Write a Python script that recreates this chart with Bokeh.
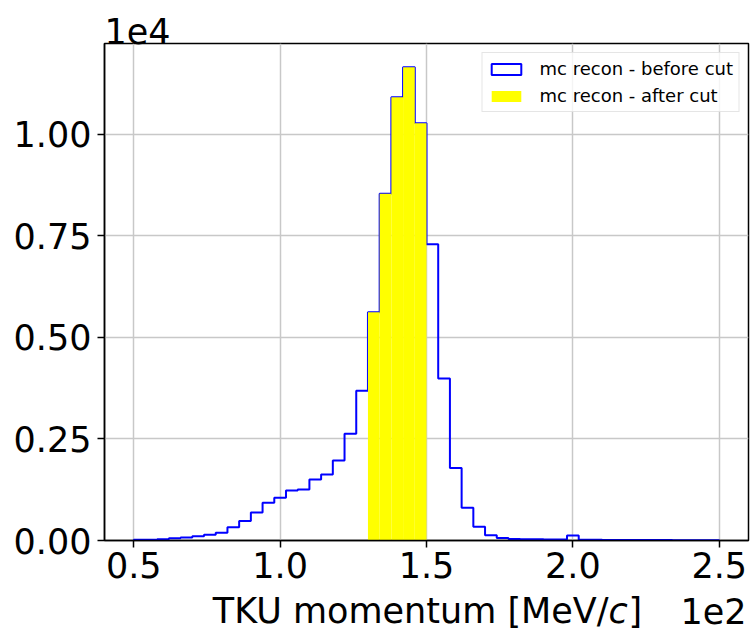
from bokeh.plotting import figure
from bokeh.layouts import column
from bokeh.models import (Range1d, FixedTicker, Legend, LegendItem, Title,
                          ColumnDataSource)
from bokeh.core.properties import value
from bokeh.embed import file_html
from bokeh.resources import INLINE

# Histogram binning: 50 bins of 4 MeV/c from 50 to 250 MeV/c
bin_edges = list(range(50, 254, 4))

# Counts per bin, reconstructed momentum before the momentum cut
before_cut = [16, 18, 33, 57, 74, 106, 139, 188, 328, 483,
              688, 930, 1055, 1229, 1253, 1499, 1622, 1966, 2629, 3686,
              5620, 8535, 10910, 11650, 10270, 7290, 3988, 1786, 803, 340,
              130, 60, 38, 32, 28, 25, 22, 120, 20, 18,
              15, 15, 12, 12, 10, 10, 8, 8, 6, 6]

# Events surviving the 130-150 MeV/c cut
cut_edges = [130, 134, 138, 142, 146, 150]
after_cut = [5620, 8535, 10910, 11650, 10270]

x_ticks = [50, 100, 150, 200, 250]
x_tick_labels = ["0.5", "1.0", "1.5", "2.0", "2.5"]
y_ticks = [0, 2500, 5000, 7500, 10000]
y_tick_labels = ["0.00", "0.25", "0.50", "0.75", "1.00"]

FONT = "DejaVu Sans"
BIG = "35px"

x_lo = bin_edges[0] - 0.05 * (bin_edges[-1] - bin_edges[0])
x_hi = bin_edges[-1] + 0.05 * (bin_edges[-1] - bin_edges[0])
y_hi = 1.05 * max(before_cut)

p = figure(width=750, height=592, output_backend="svg", toolbar_location=None,
           x_range=Range1d(x_lo, x_hi), y_range=Range1d(0, y_hi),
           min_border_left=104, min_border_right=2,
           min_border_top=43, min_border_bottom=52)

# y-axis scale multiplier shown above the frame
p.add_layout(Title(text="1e4", align="left", text_font=FONT, text_font_size=BIG,
                   text_font_style="normal", text_color="black", standoff=0), "above")

# step outline of the "before cut" histogram
xs, ys = [bin_edges[0]], [0]
for i, c in enumerate(before_cut):
    xs += [bin_edges[i], bin_edges[i + 1]]
    ys += [c, c]
xs.append(bin_edges[-1])
ys.append(0)
p.line(xs, ys, line_color="blue", line_width=2)

# filled "after cut" histogram on top
after_src = ColumnDataSource(dict(left=cut_edges[:-1], right=cut_edges[1:],
                                  top=after_cut, bottom=[0] * len(after_cut)))
after_r = p.quad(left="left", right="right", top="top", bottom="bottom",
                 source=after_src, fill_color="yellow", line_color=None)

# legend proxy: hollow blue box standing for the step histogram (not drawn)
nan = float("nan")
proxy_src = ColumnDataSource(dict(left=[nan], right=[nan], top=[nan], bottom=[nan]))
proxy_r = p.quad(left="left", right="right", top="top", bottom="bottom",
                 source=proxy_src, fill_alpha=0, line_color="blue", line_width=2)

legend = Legend(items=[LegendItem(label="mc recon - before cut", renderers=[proxy_r]),
                       LegendItem(label="mc recon - after cut", renderers=[after_r])],
                location="top_right", margin=9, padding=5, spacing=6,
                glyph_width=37, glyph_height=14, label_height=21, label_standoff=15,
                label_text_font=FONT, label_text_font_size="18px",
                label_text_color="black",
                border_line_color="#cccccc", border_line_width=1.5,
                background_fill_alpha=0.8)
p.add_layout(legend)

# axes
p.xaxis.ticker = FixedTicker(ticks=x_ticks)
p.yaxis.ticker = FixedTicker(ticks=y_ticks)
p.xaxis.major_label_overrides = dict(zip(x_ticks, x_tick_labels))
p.yaxis.major_label_overrides = dict(zip(y_ticks, y_tick_labels))
for ax in (p.xaxis, p.yaxis):
    ax.major_label_text_font = FONT
    ax.major_label_text_font_size = BIG
    ax.major_label_text_line_height = 1.0
    ax.major_label_text_color = "black"
    ax.axis_line_color = "black"
    ax.axis_line_width = 1.5
    ax.major_tick_line_color = "black"
    ax.major_tick_line_width = 1.5
    ax.major_tick_out = 7
    ax.major_tick_in = 0
    ax.minor_tick_line_color = None
p.xaxis.major_label_standoff = 4
p.yaxis.major_label_standoff = 6

p.xgrid.ticker = FixedTicker(ticks=x_ticks)
p.ygrid.ticker = FixedTicker(ticks=y_ticks)
p.grid.grid_line_color = "#c8c8c8"
p.grid.grid_line_width = 1.5

p.outline_line_color = "black"
p.outline_line_width = 1.5
p.background_fill_color = "white"
p.border_fill_color = "white"

# strip under the plot (its frame lines up with the plot frame above) holding
# the x-axis title with an italic c, and the x multiplier
H = 36
q = figure(width=750, height=H, output_backend="svg", toolbar_location=None,
           x_axis_type=None, y_axis_type=None, title=None,
           x_range=Range1d(x_lo, x_hi), y_range=Range1d(0, H),
           min_border=0, min_border_left=0, min_border_right=0,
           min_border_top=0, min_border_bottom=0)
q.outline_line_color = None
q.background_fill_color = "white"
q.border_fill_color = "white"

base = 18                     # anchor height of the text row
xc = 0.5 * (x_lo + x_hi)      # centre of the frame
txt = dict(text_font=value(FONT), text_font_size=value(BIG), text_color="black",
           text_baseline="alphabetic")
q.text(x=[xc], y=[base], x_offset=182, text=["TKU momentum [MeV/"],
       text_align="right", **txt)
q.text(x=[xc], y=[base], x_offset=182, text=["c"], text_align="left",
       text_font_style="italic", **txt)
q.text(x=[xc], y=[base], x_offset=202, text=["]"], text_align="left", **txt)
q.text(x=[x_hi], y=[base], x_offset=-2, text=["1e2"], text_align="right", **txt)

open("out.html", "w").write(file_html(column(p, q, spacing=0), INLINE))
